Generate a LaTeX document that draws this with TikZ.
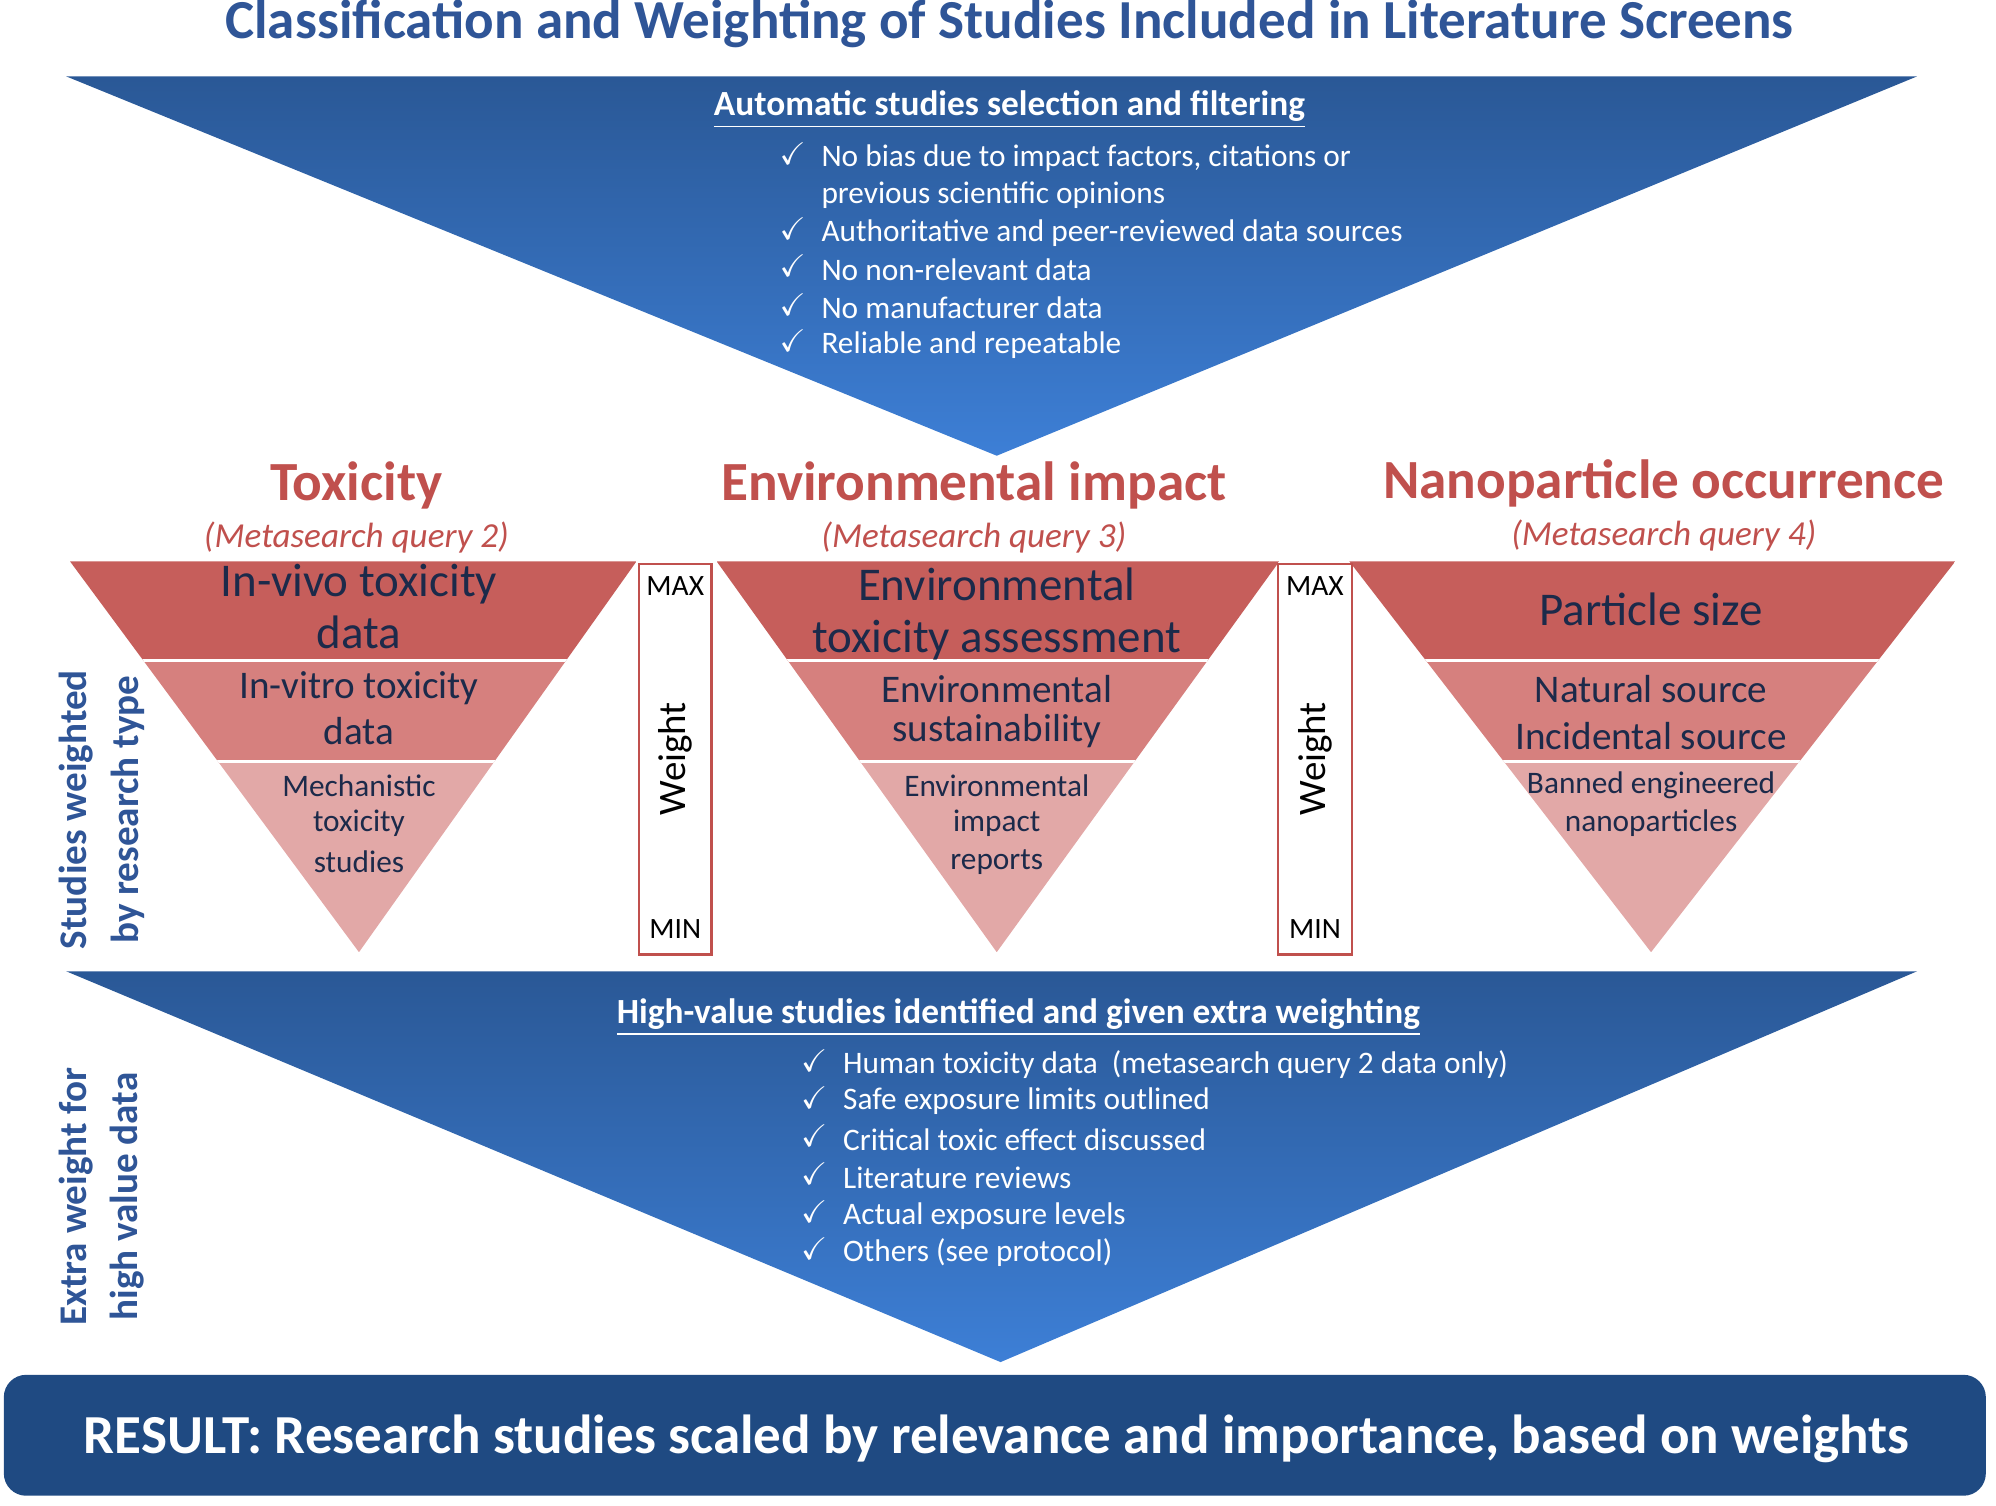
\documentclass[tikz,border=0pt]{standalone}
\usepackage{fontspec}
\usepackage{amssymb}
\setmainfont{Carlito}
\definecolor{ttl}{HTML}{2F5597}
\definecolor{bdark}{HTML}{2A5896}
\definecolor{blight}{HTML}{3D7FD6}
\definecolor{rtxt}{HTML}{C0504D}
\definecolor{r1}{HTML}{C65E5B}
\definecolor{r2}{HTML}{D6807E}
\definecolor{r3}{HTML}{E2A8A7}
\definecolor{navy}{HTML}{1C2A4A}
\definecolor{res}{HTML}{1F4A82}
\begin{document}
\begin{tikzpicture}[x=0.02cm,y=-0.02cm,
 ck/.style={font=\fontsize{14}{16}\selectfont,text=white,anchor=west,inner sep=0},
 hd/.style={font=\bfseries\fontsize{15.8}{18}\selectfont,text=white},
 cat/.style={font=\bfseries\fontsize{24.7}{28}\selectfont,text=rtxt},
 sub/.style={font=\itshape\fontsize{15.7}{18}\selectfont,text=rtxt},
 big/.style={font=\fontsize{21}{24}\selectfont,text=navy,align=center},
 mid/.style={font=\fontsize{17.5}{20}\selectfont,text=navy,align=center},
 sml/.style={font=\fontsize{14}{16}\selectfont,text=navy,align=center},
 wbox/.style={draw=rtxt,line width=1.2pt,fill=white},
 side/.style={font=\bfseries\fontsize{17.5}{23}\selectfont,text=ttl,align=center,rotate=90}]
\useasboundingbox (0,0) rectangle (1568,1183);
\node[font=\bfseries\fontsize{24.6}{28}\selectfont,text=ttl] (title) at (793,19) {Classification and Weighting of Studies Included in Literature Screens};
% top triangle
\shade[top color=bdark,bottom color=blight] (52,60) -- (1506,60) -- (783,358) -- cycle;
\node[hd] (h1) at (793,86) {\underline{Automatic studies selection and filtering}};
\foreach \y/\t in {124/{No bias due to impact factors, citations or},153/{previous scientific opinions},183/{Authoritative and peer-reviewed data sources},212/{No non-relevant data},242/{No manufacturer data},271/{Reliable and repeatable}}{
 \node[ck] at (645,\y) {\t};}
\foreach \y in {124,183,212,242,271}{\node[ck] at (612,\y-3) {$\checkmark$};}
% categories
\node[cat] (c1) at (280,381) {Toxicity};
\node[sub] (s1) at (280,422) {(Metasearch query 2)};
\node[cat] (c2) at (765,381) {Environmental impact};
\node[sub] (s2) at (765,422) {(Metasearch query 3)};
\node[cat] (c3) at (1307,380) {Nanoparticle occurrence};
\node[sub] (s3) at (1307,421) {(Metasearch query 4)};
% inverted triangles
\foreach \a/\b/\c in {55/500/282,563/1005/783,1060/1536/1297}{
 \begin{scope}
 \clip (\a,441) -- (\b,441) -- (\c,748) -- cycle;
 \fill[r1] (\a,441) rectangle (\b,519);
 \fill[r2] (\a,519) rectangle (\b,598);
 \fill[r3] (\a,598) rectangle (\b,748);
 \draw[white,line width=1.5pt] (\a,519) -- (\b,519) (\a,598) -- (\b,598);
 \end{scope}}
\node[big] at (282,459) {In-vivo toxicity};
\node[big] at (282,497) {data};
\node[mid] at (282,541) {In-vitro toxicity};
\node[mid] at (282,574) {data};
\node[sml] at (282,617) {Mechanistic};
\node[sml] at (282,647) {toxicity};
\node[sml] at (282,677) {studies};
\node[big] at (783,459) {Environmental};
\node[big] at (783,503) {toxicity assessment};
\node[mid] at (783,541) {Environmental};
\node[mid] at (783,574) {sustainability};
\node[sml] at (783,617) {Environmental};
\node[sml] at (783,647) {impact};
\node[sml] at (783,677) {reports};
\node[big] at (1297,479) {Particle size};
\node[mid] at (1297,541) {Natural source};
\node[mid] at (1297,578) {Incidental source};
\node[sml] at (1297,617) {Banned engineered};
\node[sml] at (1297,647) {nanoparticles};
% weight boxes
\foreach \l/\r/\n in {502/559/w1,1004/1062/w2}{
 \draw[wbox] (\l,443) rectangle (\r,750);
 \node[font=\fontsize{13.2}{15}\selectfont] at ({(\l+\r)/2},460) {MAX};
 \node[font=\fontsize{13.2}{15}\selectfont] at ({(\l+\r)/2},730) {MIN};
 \node[font=\fontsize{17.4}{20}\selectfont,rotate=90] (\n) at ({(\l+\r)/2},596) {Weight};}
\node[side] (sd1) at (80,636) {Studies weighted\\by research type};
\node[side] (sd2) at (80,940) {Extra weight for\\high value data};
% bottom triangle
\shade[top color=bdark,bottom color=blight] (52,763) -- (1506,763) -- (786,1070) -- cycle;
\node[hd] (h2) at (800,799) {\underline{High-value studies identified and given extra weighting}};
\foreach \y/\t in {836/{Human toxicity data\ \ (metasearch query 2 data only)},865/{Safe exposure limits outlined},895/{Critical toxic effect discussed},925/{Literature reviews},955/{Actual exposure levels},984/{Others (see protocol)}}{
 \node[ck] at (662,\y) {\t};
 \node[ck] at (629,\y-3) {$\checkmark$};}
% result
\fill[res,rounded corners=10pt] (3,1080) rectangle (1560,1175);
\node[font=\bfseries\fontsize{24.6}{28}\selectfont,text=white] (r) at (783,1130) {RESULT: Research studies scaled by relevance and importance, based on weights};
\end{tikzpicture}
\end{document}
